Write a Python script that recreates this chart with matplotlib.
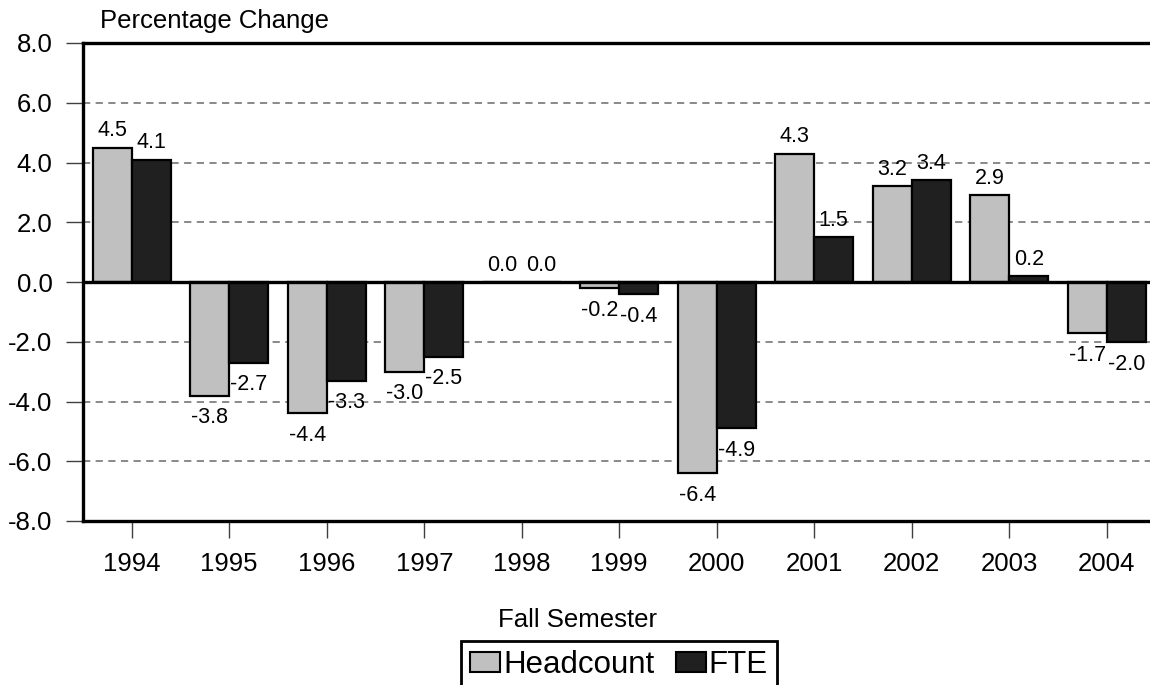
import matplotlib
matplotlib.use("Agg")
import matplotlib.pyplot as plt
import numpy as np
from matplotlib.patches import Patch

plt.rcParams['font.family'] = ['Liberation Sans', 'DejaVu Sans']
plt.rcParams['axes.unicode_minus'] = False

years = ['1994', '1995', '1996', '1997', '1998', '1999', '2000', '2001', '2002', '2003', '2004']
headcount = [4.5, -3.8, -4.4, -3.0, 0.0, -0.2, -6.4, 4.3, 3.2, 2.9, -1.7]
fte = [4.1, -2.7, -3.3, -2.5, 0.0, -0.4, -4.9, 1.5, 3.4, 0.2, -2.0]
yticks = [-8.0, -6.0, -4.0, -2.0, 0.0, 2.0, 4.0, 6.0, 8.0]

W, H = 1150, 685
fig = plt.figure(figsize=(W / 100, H / 100), dpi=100)
ax = fig.add_axes([83 / W, 1 - 521 / H, (1155.5 - 83) / W, (521 - 43) / H])

x = np.arange(len(years))
bw = 0.4
hc_col = '#C0C0C0'
fte_col = '#202020'
ax.bar(x - bw / 2, headcount, bw, color=hc_col, edgecolor='black', linewidth=1.6, zorder=3)
ax.bar(x + bw / 2, fte, bw, color=fte_col, edgecolor='black', linewidth=1.6, zorder=3)

ax.set_xlim(-0.5, len(years) - 0.5)
ax.set_ylim(-8, 8)
ax.set_yticks(yticks)
ax.set_yticklabels([f"{v:.1f}" for v in yticks])
ax.set_xticks(x)
ax.set_xticklabels(years)

for g in yticks:
    if g in (-8.0, 0.0, 8.0):
        continue
    ax.axhline(g, color='#808080', linewidth=1.3, linestyle=(0, (4, 3)), zorder=1)
ax.axhline(0, color='black', linewidth=2.4, zorder=4)

for s in ['left', 'bottom', 'top', 'right']:
    ax.spines[s].set_linewidth(2.4)
    ax.spines[s].set_color('black')

ax.tick_params(axis='both', which='major', length=12, width=1.0, color='#404040',
               labelsize=18.5, pad=10)

def label(xpos, v):
    txt = f"{v:.1f}"
    if v >= 0:
        ax.annotate(txt, (xpos, v), xytext=(0, 8), textcoords='offset points',
                    ha='center', va='baseline', fontsize=15.5, zorder=6)
    else:
        ax.annotate(txt, (xpos, v), xytext=(0, -20), textcoords='offset points',
                    ha='center', va='baseline', fontsize=15.5, zorder=6)

for i in range(len(years)):
    label(x[i] - bw / 2, headcount[i])
    label(x[i] + bw / 2, fte[i])

fig.text(100 / W, 1 - 28 / H, 'Percentage Change', fontsize=18.5, ha='left', va='baseline')
fig.text(577 / W, 1 - 620 / H, 'Fall Semester', fontsize=18.5, ha='center', va='center')

handles = [Patch(facecolor=hc_col, edgecolor='black', linewidth=1.5, label='Headcount'),
           Patch(facecolor=fte_col, edgecolor='black', linewidth=1.5, label='FTE')]
leg = fig.legend(handles=handles, loc='upper center', bbox_to_anchor=(619 / W, 1 - 641 / H),
                 ncol=2, fontsize=22.5, frameon=True, fancybox=False, framealpha=1,
                 edgecolor='black', handlelength=0.95, handleheight=0.6,
                 handletextpad=0.1, columnspacing=0.7, borderpad=0.3, borderaxespad=0)
leg.get_frame().set_linewidth(2)

fig.savefig('out.png', dpi=100)
